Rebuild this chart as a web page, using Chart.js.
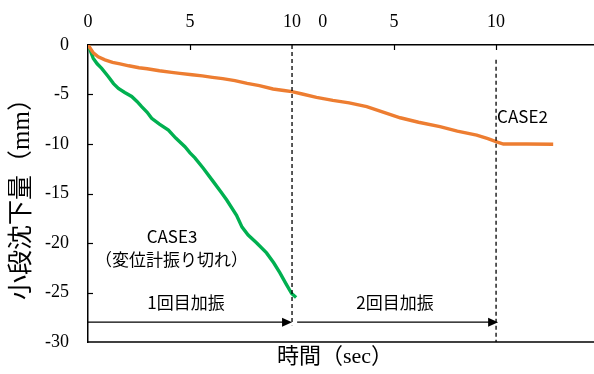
<!DOCTYPE html>
<html>
<head>
<meta charset="utf-8">
<script src="https://cdn.jsdelivr.net/npm/chart.js@4"></script>
<style>
  html, body { margin: 0; padding: 0; background: #fff; }
  #wrap { width: 594px; height: 374px; }
</style>
</head>
<body>
<div id="wrap"><canvas id="c" width="594" height="374"></canvas></div>
<script>
// Settlement of the small step during two shaking runs (time axis is continuous, 0-10 s each run)
const case2Time = [0, 0.1, 0.26, 0.5, 0.83, 1.2, 1.57, 2.0, 2.5, 2.9, 3.5, 4.1, 4.5, 5.1, 5.6, 6.1, 6.6, 7.2, 7.8, 8.4, 9.07, 9.6, 10.0,
  10.5, 11.2, 12.0, 12.8, 13.66, 14.5, 15.3, 16.2, 17.25, 18.1, 19.05, 19.6, 20.1, 20.36, 21.5, 22.8];
const case2Settle = [0, -0.3, -0.8, -1.2, -1.5, -1.75, -1.9, -2.1, -2.3, -2.4, -2.6, -2.76, -2.86, -3.0, -3.12, -3.27, -3.4, -3.6, -3.87, -4.1, -4.44, -4.6, -4.71,
  -4.95, -5.29, -5.6, -5.85, -6.23, -6.8, -7.35, -7.8, -8.25, -8.7, -9.1, -9.45, -9.83, -10.0, -10.0, -10.03];

const case3Time = [0, 0.1, 0.26, 0.45, 0.67, 1.0, 1.25, 1.49, 1.8, 2.14, 2.4, 2.63, 2.9, 3.12, 3.5, 3.94, 4.3, 4.75, 5.0, 5.24, 5.65, 6.14, 6.5, 6.8,
  7.28, 7.55, 7.85, 8.27, 8.75, 9.1, 9.4, 9.7, 9.98, 10.2];
const case3Settle = [0, -0.5, -1.35, -1.9, -2.36, -3.2, -3.9, -4.38, -4.8, -5.2, -5.7, -6.23, -6.8, -7.4, -8.0, -8.6, -9.4, -10.27, -10.9, -11.4, -12.45, -13.8, -14.8, -15.66,
  -17.2, -18.4, -19.2, -20.0, -21.0, -22.0, -23.0, -24.1, -25.1, -25.5];

// top axis: each run restarts at 0 s
const timeTickValues = [0, 5, 10, 11.5, 15, 20];
const timeTickLabels = ['0', '5', '10', '0', '5', '10'];
const settleTicks = [0, -5, -10, -15, -20, -25, -30];

const runEnds = [10, 20];
const runLabels = ['1回目加振', '2回目加振'];

const serifFont = 'Liberation Serif';
const titleFont = '"Liberation Serif", "Noto Sans CJK JP", serif';
const noteFont = '"Noto Sans CJK JP", sans-serif';

Chart.defaults.font.family = serifFont;

function pairs(xs, ys) { return xs.map((x, i) => ({ x: x, y: ys[i] })); }

const decor = {
  id: 'decor',
  afterDatasetsDraw(chart) {
    const { ctx, chartArea: a, scales: { x, y } } = chart;
    ctx.save();
    ctx.strokeStyle = '#000';
    ctx.fillStyle = '#000';

    // bottom frame line
    ctx.lineWidth = 1.5;
    ctx.beginPath();
    ctx.moveTo(a.left, a.bottom);
    ctx.lineTo(a.right, a.bottom);
    ctx.stroke();

    // inward tick marks
    ctx.lineWidth = 1.2;
    [5, 15, 20].forEach(v => {
      const px = Math.round(x.getPixelForValue(v)) + 0.5;
      ctx.beginPath(); ctx.moveTo(px, a.top); ctx.lineTo(px, a.top + 5); ctx.stroke();
    });
    settleTicks.slice(1, -1).forEach(v => {
      const py = Math.round(y.getPixelForValue(v)) + 0.5;
      ctx.beginPath(); ctx.moveTo(a.left, py); ctx.lineTo(a.left + 5, py); ctx.stroke();
    });

    // dashed run boundaries
    ctx.setLineDash([4, 3]);
    ctx.lineWidth = 1.3;
    let px = x.getPixelForValue(runEnds[0]);
    ctx.beginPath(); ctx.moveTo(px, a.top); ctx.lineTo(px, y.getPixelForValue(-28.3)); ctx.stroke();
    px = x.getPixelForValue(runEnds[1]);
    ctx.beginPath(); ctx.moveTo(px, y.getPixelForValue(-1.5)); ctx.lineTo(px, a.bottom); ctx.stroke();
    ctx.setLineDash([]);

    // run arrows
    const ay = y.getPixelForValue(-28);
    const arrow = (t0, t1) => {
      const x0 = x.getPixelForValue(t0), x1 = x.getPixelForValue(t1);
      ctx.lineWidth = 1.3;
      ctx.beginPath(); ctx.moveTo(x0, ay); ctx.lineTo(x1 - 8, ay); ctx.stroke();
      ctx.beginPath(); ctx.moveTo(x1, ay); ctx.lineTo(x1 - 10, ay - 4.5); ctx.lineTo(x1 - 10, ay + 4.5); ctx.closePath(); ctx.fill();
    };
    arrow(0, 10);
    arrow(10.25, 20.1);

    // notes
    ctx.font = '17px ' + noteFont;
    ctx.textAlign = 'center';
    ctx.textBaseline = 'middle';
    ctx.fillStyle = '#000';
    ctx.fillText(runLabels[0], x.getPixelForValue(4.8), y.getPixelForValue(-26.06));
    ctx.fillText(runLabels[1], x.getPixelForValue(15.05), y.getPixelForValue(-26.06));
    ctx.fillText('CASE3', x.getPixelForValue(4.12), y.getPixelForValue(-19.3));
    ctx.fillText('（変位計振り切れ）', x.getPixelForValue(4.09), y.getPixelForValue(-21.7));
    ctx.textAlign = 'left';
    ctx.fillText('CASE2', x.getPixelForValue(20.05), y.getPixelForValue(-7.27));

    // axis titles
    ctx.font = '22px ' + titleFont;
    ctx.textAlign = 'center';
    ctx.fillText('時間（sec）', 335, 357);
    ctx.translate(22, 193);
    ctx.rotate(-Math.PI / 2);
    ctx.font = '25px ' + titleFont;
    ctx.fillText('小段沈下量（mm）', 0, 0);
    ctx.restore();
  }
};

new Chart(document.getElementById('c'), {
  type: 'line',
  data: {
    datasets: [
      { label: 'CASE2', data: pairs(case2Time, case2Settle), borderColor: '#ED7D31', borderWidth: 3.4, pointRadius: 0, tension: 0 },
      { label: 'CASE3', data: pairs(case3Time, case3Settle), borderColor: '#00B050', borderWidth: 3.4, pointRadius: 0, tension: 0 }
    ]
  },
  options: {
    responsive: false,
    devicePixelRatio: 1,
    animation: false,
    layout: { padding: { left: 0, right: 0, top: 0, bottom: 32 } },
    plugins: { legend: { display: false }, tooltip: { enabled: false } },
    scales: {
      x: {
        type: 'linear',
        position: 'top',
        min: 0,
        max: 24.8,
        afterBuildTicks(s) { s.ticks = timeTickValues.map(v => ({ value: v })); },
        afterFit(s) { s.height = 45; },
        ticks: {
          autoSkip: false,
          maxRotation: 0,
          padding: 12,
          color: '#000',
          font: { family: serifFont, size: 18 },
          callback(v, i) { return timeTickLabels[i]; }
        },
        grid: { display: false, drawTicks: false },
        border: { display: true, color: '#000', width: 1.5 }
      },
      y: {
        min: -30,
        max: 0,
        afterBuildTicks(s) { s.ticks = settleTicks.map(v => ({ value: v })); },
        afterFit(s) { s.width = 88; },
        ticks: {
          padding: 19,
          color: '#000',
          font: { family: serifFont, size: 18 }
        },
        grid: { display: false, drawTicks: false },
        border: { display: true, color: '#000', width: 1.5 }
      }
    }
  },
  plugins: [decor]
});
</script>
</body>
</html>
